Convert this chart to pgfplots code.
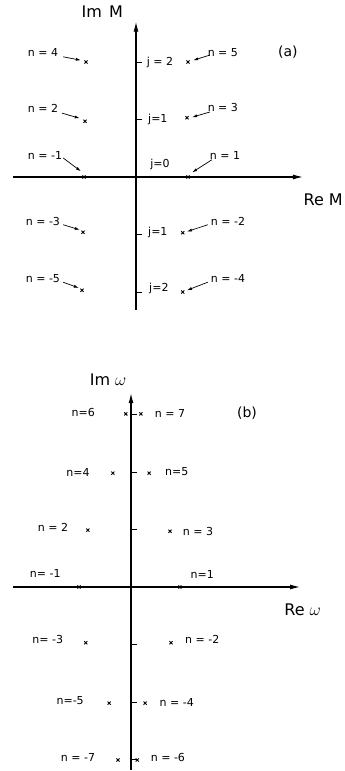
\documentclass[border=0pt]{standalone}
\usepackage{fontspec}
\setmainfont{DejaVu Sans}
\usepackage{pgfplots}
\pgfplotsset{compat=1.18}
\usetikzlibrary{arrows.meta}

\pgfplotsset{
  plane/.style={
    x=52pt, y=57.5pt,
    axis lines=middle,
    axis line style={line width=1.1pt, -{Latex[length=10pt,width=5pt]}},
    xtick=\empty, ytick=\empty,
    clip=false,
    anchor=origin,
  },
  poles/.style={only marks, mark=x, mark size=2.2pt,
    mark options={line width=0.9pt}, black},
}
\tikzset{
  lab/.style={font=\fontsize{11}{13}\selectfont, inner sep=0pt},
  big/.style={font=\fontsize{16}{18}\selectfont, inner sep=0pt},
  pt/.style={-{Latex[length=5pt,width=3pt]}, line width=0.7pt},
  tk/.style={line width=0.9pt},
}

\begin{document}
\begin{tikzpicture}
\useasboundingbox (0,0) rectangle (345pt,771pt);

% ---------- (a) complex M plane ----------
\begin{axis}[plane, at={(136pt,594pt)},
  xmin=-2.37, xmax=3.21, ymin=-2.31, ymax=2.70]
\addplot[poles] coordinates {
  (-0.96, 2.00) (1.00, 2.00)
  (-0.98, 0.97) (0.98, 1.03)
  (-1.00, 0.00) (1.00, 0.00)
  (-1.02,-0.96) (0.90,-0.97)
  (-1.04,-1.97) (0.90,-2.00)
};
\draw[tk] (axis cs:0,2) -- (axis cs:0.11,2);
\draw[tk] (axis cs:0,1) -- (axis cs:0.11,1);
\draw[tk] (axis cs:0,-1) -- (axis cs:0.11,-1);
\draw[tk] (axis cs:0,-2) -- (axis cs:0.11,-2);
\node[lab] at (axis cs:0.46,2.00) {j = 2};
\node[lab] at (axis cs:0.42,1.00) {j=1};
\node[lab] at (axis cs:0.46,0.21) {j=0};
\node[lab] at (axis cs:0.42,-0.96) {j=1};
\node[lab] at (axis cs:0.44,-1.93) {j=2};
\node[big] at (axis cs:-0.65,2.87) {Im\hspace{0.45em}M};
\node[big] at (axis cs:3.60,-0.39) {Re M};
\node[font=\fontsize{14}{16}\selectfont, inner sep=0pt] at (axis cs:2.92,2.17) {(a)};
% left column
\node[lab] at (axis cs:-1.79,2.17) {n = 4};
\draw[pt] (axis cs:-1.40,2.09) -- (axis cs:-1.06,2.03);
\node[lab] at (axis cs:-1.79,1.20) {n = 2};
\draw[pt] (axis cs:-1.42,1.11) -- (axis cs:-1.08,1.02);
\node[lab] at (axis cs:-1.75,0.38) {n = -1};
\draw[pt] (axis cs:-1.40,0.33) -- (axis cs:-1.06,0.10);
\node[lab] at (axis cs:-1.79,-0.78) {n = -3};
\draw[pt] (axis cs:-1.40,-0.83) -- (axis cs:-1.08,-0.92);
\node[lab] at (axis cs:-1.79,-1.76) {n = -5};
\draw[pt] (axis cs:-1.40,-1.83) -- (axis cs:-1.10,-1.93);
% right column
\node[lab] at (axis cs:1.67,2.16) {n = 5};
\draw[pt] (axis cs:1.42,2.12) -- (axis cs:1.10,2.03);
\node[lab] at (axis cs:1.67,1.20) {n = 3};
\draw[pt] (axis cs:1.42,1.13) -- (axis cs:1.08,1.04);
\node[lab] at (axis cs:1.71,0.38) {n = 1};
\draw[pt] (axis cs:1.46,0.30) -- (axis cs:1.08,0.08);
\node[lab] at (axis cs:1.77,-0.78) {n = -2};
\draw[pt] (axis cs:1.38,-0.83) -- (axis cs:0.98,-0.95);
\node[lab] at (axis cs:1.77,-1.76) {n = -4};
\draw[pt] (axis cs:1.38,-1.83) -- (axis cs:0.98,-1.97);
\end{axis}

% ---------- (b) complex omega plane ----------
\begin{axis}[plane, at={(131pt,184pt)},
  xmin=-2.27, xmax=3.25, ymin=-3.18, ymax=3.37]
\addplot[poles] coordinates {
  (-0.10, 3.01) (0.19, 3.01)
  (-0.35, 1.98) (0.35, 1.98)
  (-0.83, 0.99) (0.75, 0.97)
  (-1.00, 0.00) (0.94, 0.00)
  (-0.87,-0.97) (0.77,-0.97)
  (-0.42,-2.02) (0.27,-2.02)
  (-0.25,-3.01) (0.12,-3.01)
};
\draw[tk] (axis cs:0,3) -- (axis cs:0.11,3);
\draw[tk] (axis cs:0,2) -- (axis cs:0.11,2);
\draw[tk] (axis cs:0,1) -- (axis cs:0.11,1);
\draw[tk] (axis cs:0,-1) -- (axis cs:0.11,-1);
\draw[tk] (axis cs:0,-2) -- (axis cs:0.11,-2);
\draw[tk] (axis cs:0,-3) -- (axis cs:0.11,-3);
\node[big] at (axis cs:-0.44,3.60) {Im $\omega$};
\node[big] at (axis cs:3.30,-0.40) {Re $\omega$};
\node[font=\fontsize{14}{16}\selectfont, inner sep=0pt] at (axis cs:2.23,3.03) {(b)};
\node[lab] at (axis cs:-0.92,3.03) {n=6};
\node[lab] at (axis cs:0.75,3.01) {n = 7};
\node[lab] at (axis cs:-1.02,2.00) {n=4};
\node[lab] at (axis cs:0.88,2.00) {n=5};
\node[lab] at (axis cs:-1.50,1.03) {n = 2};
\node[lab] at (axis cs:1.29,0.97) {n = 3};
\node[lab] at (axis cs:-1.65,0.23) {n= -1};
\node[lab] at (axis cs:1.37,0.21) {n=1};
\node[lab] at (axis cs:-1.60,-0.92) {n= -3};
\node[lab] at (axis cs:1.37,-0.92) {n = -2};
\node[lab] at (axis cs:-1.17,-1.97) {n=-5};
\node[lab] at (axis cs:0.88,-2.00) {n = -4};
\node[lab] at (axis cs:-1.02,-2.96) {n = -7};
\node[lab] at (axis cs:0.71,-2.96) {n = -6};
\end{axis}
\end{tikzpicture}
\end{document}
